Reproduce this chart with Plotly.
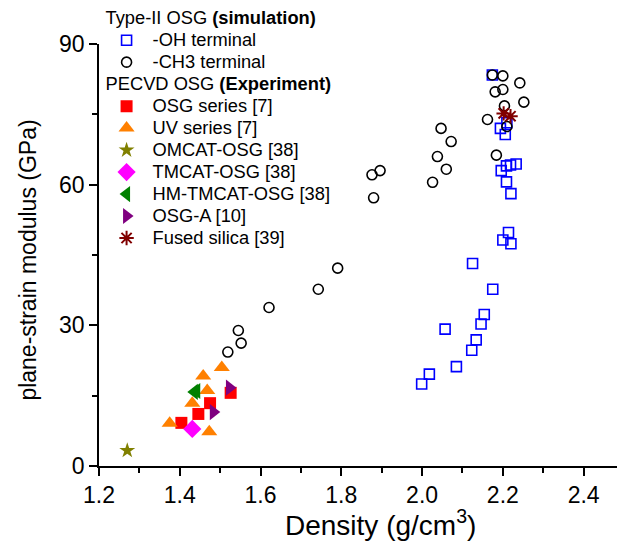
import plotly.graph_objects as go

# ---- Simulation: -OH terminal (density, modulus)
oh_density = [1.999, 2.018, 2.085, 2.123, 2.134, 2.057, 2.146, 2.154, 2.175, 2.125,
              2.200, 2.220, 2.214, 2.220, 2.209, 2.196, 2.209, 2.219, 2.233,
              2.194, 2.206, 2.210, 2.174]
oh_modulus = [17.5, 19.6, 21.2, 24.7, 26.9, 29.2, 30.3, 32.3, 37.7, 43.2,
              48.2, 47.4, 49.8, 58.1, 60.6, 63.0, 64.0, 64.2, 64.4,
              72.0, 70.7, 73.2, 83.4]

# ---- Simulation: -CH3 terminal
ch3_density = [1.519, 1.552, 1.545, 1.621, 1.743, 1.791, 1.880, 1.876, 1.896, 2.026,
               2.060, 2.038, 2.072, 2.047, 2.184, 2.162, 2.210, 2.204, 2.252, 2.181,
               2.200, 2.242, 2.174, 2.200]
ch3_modulus = [24.3, 26.2, 28.9, 33.8, 37.7, 42.2, 57.2, 62.1, 63.0, 60.5,
               63.3, 66.0, 69.2, 72.0, 66.3, 73.9, 72.4, 76.8, 77.6, 79.8,
               80.3, 81.7, 83.4, 83.2]

# ---- Experiments
osg_density = [1.404, 1.446, 1.475, 1.526]
osg_modulus = [9.2, 11.1, 13.4, 15.6]

uv_density = [1.375, 1.431, 1.473, 1.468, 1.458, 1.504]
uv_modulus = [9.1, 13.4, 7.3, 16.1, 19.2, 21.0]

omcat_density = [1.270]
omcat_modulus = [3.3]

tmcat_density = [1.431]
tmcat_modulus = [7.9]

hm_density = [1.436, 1.442]
hm_modulus = [15.8, 16.0]

osga_density = [1.483, 1.523]
osga_modulus = [11.5, 16.7]

silica_density = [2.202, 2.219]
silica_modulus = [75.2, 74.6]

x_ticks = [1.2, 1.4, 1.6, 1.8, 2.0, 2.2, 2.4]
y_ticks = [0, 30, 60, 90]

x_title = "Density (g/cm<sup>3</sup>)"
y_title = "plane-strain modulus (GPa)"

FONT = "Liberation Sans, Arial, sans-serif"
LEG_PX = 18.3


def big(t):
    return f'<span style="font-size:{LEG_PX}px">{t}</span>'


fig = go.Figure()

sim_title = big("Type-II OSG <b>(simulation)</b>")
exp_title = big("PECVD OSG <b>(Experiment)</b>")

fig.add_trace(go.Scatter(
    x=oh_density, y=oh_modulus, mode="markers", name=big("-OH terminal"),
    legendgroup="sim", legendgrouptitle=dict(text=sim_title),
    marker=dict(symbol="square-open", size=10, color="#0000FF", line=dict(width=1.6))))
fig.add_trace(go.Scatter(
    x=ch3_density, y=ch3_modulus, mode="markers", name=big("-CH3 terminal"),
    legendgroup="sim",
    marker=dict(symbol="circle-open", size=10, color="black", line=dict(width=1.6))))

fig.add_trace(go.Scatter(
    x=osg_density, y=osg_modulus, mode="markers", name=big("OSG series [7]"),
    legendgroup="exp", legendgrouptitle=dict(text=exp_title),
    marker=dict(symbol="square", size=12, color="#FF0000")))
fig.add_trace(go.Scatter(
    x=uv_density, y=uv_modulus, mode="markers", name=big("UV series [7]"),
    legendgroup="exp",
    marker=dict(symbol="triangle-up", size=14, color="#FF8000")))
fig.add_trace(go.Scatter(
    x=omcat_density, y=omcat_modulus, mode="markers", name=big("OMCAT-OSG [38]"),
    legendgroup="exp",
    marker=dict(symbol="star", size=12, color="#808000")))
fig.add_trace(go.Scatter(
    x=tmcat_density, y=tmcat_modulus, mode="markers", name=big("TMCAT-OSG [38]"),
    legendgroup="exp",
    marker=dict(symbol="diamond", size=14, color="#FF00FF")))
fig.add_trace(go.Scatter(
    x=hm_density, y=hm_modulus, mode="markers", name=big("HM-TMCAT-OSG [38]"),
    legendgroup="exp",
    marker=dict(symbol="triangle-left", size=14, color="#008000")))
fig.add_trace(go.Scatter(
    x=osga_density, y=osga_modulus, mode="markers", name=big("OSG-A [10]"),
    legendgroup="exp",
    marker=dict(symbol="triangle-right", size=14, color="#800080")))
fig.add_trace(go.Scatter(
    x=silica_density, y=silica_modulus, mode="markers", name=big("Fused silica [39]"),
    legendgroup="exp",
    marker=dict(symbol="asterisk-open", size=12, color="#800000", line=dict(width=2, color="#800000"))))

axis_common = dict(
    showline=True, linecolor="black", linewidth=1.5,
    ticks="outside", ticklen=8, tickwidth=1.5, tickcolor="black",
    showgrid=False, zeroline=False, mirror=False, automargin=False,
    tickfont=dict(family=FONT, size=23, color="black"),
)

fig.update_xaxes(
    range=[1.2, 2.5], tickvals=x_ticks, ticktext=[f"{v:.1f}" for v in x_ticks],
    minor=dict(ticks="outside", ticklen=5, tickwidth=1.5, tickcolor="black", dtick=0.1, tick0=1.2),
    **axis_common)
fig.update_yaxes(
    range=[0, 90], tickvals=y_ticks,
    minor=dict(ticks="outside", ticklen=5, tickwidth=1.5, tickcolor="black", dtick=15, tick0=0),
    **axis_common)

# axis titles
fig.add_annotation(text=x_title, xref="paper", yref="paper", x=0.537, y=-0.135,
                   xanchor="center", yanchor="middle", showarrow=False,
                   font=dict(family=FONT, size=28, color="black"))
fig.add_annotation(text=y_title, xref="paper", yref="paper", x=-0.135, y=0.487,
                   xanchor="center", yanchor="middle", showarrow=False, textangle=-90,
                   font=dict(family=FONT, size=23, color="black"))

# page body has an 8px margin, so the figure is 8px smaller and shifted
fig.update_layout(
    width=617, height=544,
    margin=dict(l=91, r=1, t=36, b=86, autoexpand=False),
    plot_bgcolor="white", paper_bgcolor="white",
    font=dict(family=FONT, color="black"),
    showlegend=True,
    legend=dict(
        x=0.003, y=1.099, xanchor="left", yanchor="top",
        bgcolor="rgba(0,0,0,0)", traceorder="grouped", tracegroupgap=0,
        font=dict(family=FONT, size=14.6, color="black"),
        grouptitlefont=dict(family=FONT, size=14.6, color="black"),
        itemwidth=42,
        maxheight=600,
    ),
)

fig.write_html("out.html")
